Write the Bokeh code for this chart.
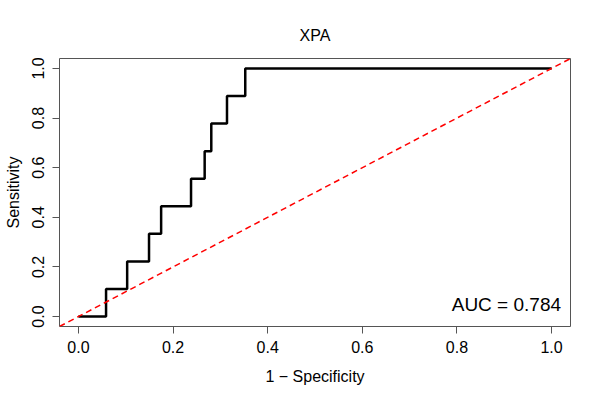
from bokeh.plotting import figure
from bokeh.models import Range1d, Slope, Label, FixedTicker
from bokeh.embed import file_html
from bokeh.resources import INLINE

# ROC data (1 - specificity, sensitivity)
fpr = [0.0, 0.0584, 0.1030, 0.1492, 0.1748, 0.2380, 0.2668, 0.2808, 0.3140, 0.3526, 1.0]
tpr = [0.0, 0.1111, 0.2222, 0.3333, 0.4444, 0.5556, 0.6667, 0.7778, 0.8889, 1.0, 1.0]
auc = 0.784
title_text = "XPA"
x_label = "1 \u2212 Specificity"
y_label = "Sensitivity"
ticks = [0.0, 0.2, 0.4, 0.6, 0.8, 1.0]
tick_labels = {0.0: "0.0", 0.2: "0.2", 0.4: "0.4", 0.6: "0.6", 0.8: "0.8", 1.0: "1.0"}

FONT = "Liberation Sans"
X0, X1 = -0.04, 1.04

p = figure(
    output_backend="svg", toolbar_location=None,
    frame_width=511, frame_height=268,
    min_border_left=59, min_border_right=14, min_border_top=58, min_border_bottom=58,
    x_range=Range1d(X0, X1), y_range=Range1d(X0, X1),
    title=title_text,
)
p.title.align = "center"
p.title.text_font = FONT
p.title.text_font_size = "16px"
p.title.text_font_style = "normal"
p.title.text_color = "black"
p.title.standoff = 30
p.grid.visible = False
p.outline_line_color = "#555555"
p.outline_line_width = 1
p.background_fill_color = "white"
p.border_fill_color = "white"

for ax in (p.xaxis[0], p.yaxis[0]):
    ax.ticker = FixedTicker(ticks=ticks)
    ax.major_label_overrides = tick_labels
    ax.minor_tick_line_color = None
    ax.major_tick_out = 7
    ax.major_tick_in = 0
    ax.major_tick_line_color = "#555555"
    ax.axis_line_color = None
    ax.major_label_text_font = FONT
    ax.major_label_text_font_size = "16px"
    ax.major_label_text_color = "black"
    ax.axis_label_text_font = FONT
    ax.axis_label_text_font_size = "16px"
    ax.axis_label_text_font_style = "normal"
    ax.axis_label_text_color = "black"

p.xaxis.axis_label = x_label
p.yaxis.axis_label = y_label
p.xaxis.major_label_standoff = 7
p.xaxis.axis_label_standoff = 12
p.yaxis.major_label_orientation = "vertical"
p.yaxis.major_label_standoff = 8
p.yaxis.axis_label_standoff = 8

# diagonal reference line
p.add_layout(Slope(gradient=1, y_intercept=0, line_color="red",
                   line_width=1.5, line_dash="6 4"))

# ROC curve
p.step(fpr, tpr, mode="after", line_color="black", line_width=2.5)

p.add_layout(Label(x=1.02, y=0.05, text="AUC = %.3f" % auc,
                   text_align="right", text_baseline="alphabetic",
                   text_font=FONT, text_font_size="19px", text_color="black"))

open("out.html", "w").write(file_html(p, INLINE))
